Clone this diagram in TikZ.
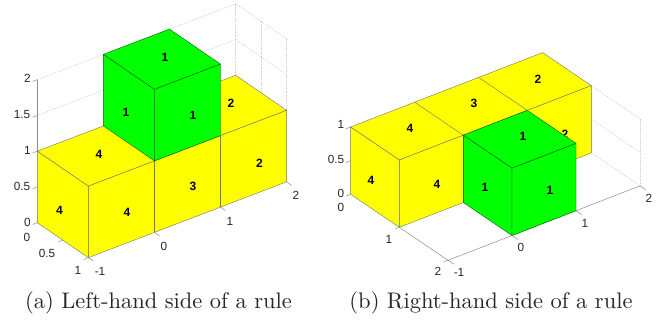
\documentclass[tikz,border=0pt]{standalone}
\usepackage{fontspec}
\setsansfont{Liberation Sans}
\definecolor{cubeyellow}{RGB}{255,255,0}
\definecolor{cubegreen}{RGB}{0,255,0}
\tikzset{
  leftaxes/.style={shift={(103.4pt,122.6pt)},x={(66.1pt,25.3pt)},y={(51pt,-35pt)},z={(0pt,71.5pt)}},
  rightaxes/.style={shift={(414.6pt,150.5pt)},x={(64pt,24.8pt)},y={(48.7pt,-33pt)},z={(0pt,67.3pt)}},
  yface/.style={fill=cubeyellow,draw=black!55,line width=0.4pt,line join=round},
  gface/.style={fill=cubegreen,draw=green!40!black,line width=0.4pt,line join=round},
  gridline/.style={draw=black!22,line width=0.55pt,dash pattern=on 1pt off 1.1pt},
  axisline/.style={draw=black!45,line width=0.5pt},
  ticklabel/.style={font=\sffamily\fontsize{11.8}{12}\selectfont,text=black!85,inner sep=0pt},
  celllabel/.style={font=\sffamily\bfseries\fontsize{12}{12}\selectfont,inner sep=0pt},
  captionlabel/.style={font=\rmfamily\fontsize{10}{12}\selectfont,scale=2.25,text=black!85,inner sep=0pt}
}
\newcommand{\pxnode}[4]{\node[#1] (#2) at (#3) {#4};}
\begin{document}
\begin{tikzpicture}[x=1pt,y=1pt]
\useasboundingbox (0,0) rectangle (670,320);
% ---------- left plot
\begin{scope}[leftaxes]
  \foreach \zz in {1.5,2}{
    \draw[gridline] (-1,0,\zz) -- (2,0,\zz) -- (2,1,\zz);
  }
  \draw[gridline] (2,0,1) -- (2,0,2);
  \draw[gridline] (2,.5,1) -- (2,.5,2);
  \draw[gridline] (2,1,1) -- (2,1,2);
  \draw[axisline] (-1,0,1) -- (-1,0,2);
  \draw[axisline] (-1,0,2) -- ++(-.07,0,0);
  \draw[axisline] (-1,0,1.5) -- ++(-.07,0,0);
  \draw[axisline] (-1,0,1) -- ++(-.07,0,0);
  \draw[axisline] (-1,0,.5) -- ++(-.07,0,0);
  \draw[axisline] (-1,0,0) -- ++(-.07,0,0);
  \draw[axisline] (-1,.5,0) -- ++(-.07,0,0);
  \draw[axisline] (-1,1,0) -- ++(-.07,0,0);
  \foreach \xx in {-1,0,1,2}{\draw[axisline] (\xx,1,0) -- ++(0,.1,0);}
  % yellow block
  \draw[yface] (-1,0,1) -- (2,0,1) -- (2,1,1) -- (-1,1,1) -- cycle;
  \draw[yface] (-1,0,0) -- (-1,1,0) -- (-1,1,1) -- (-1,0,1) -- cycle;
  \draw[yface] (-1,1,0) -- (2,1,0) -- (2,1,1) -- (-1,1,1) -- cycle;
  \draw[yface] (0,1,0) -- (0,1,1);
  \draw[yface] (1,1,0) -- (1,1,1);
  % green cube
  \draw[gface] (0,0,2) -- (1,0,2) -- (1,1,2) -- (0,1,2) -- cycle;
  \draw[gface] (0,0,1) -- (0,1,1) -- (0,1,2) -- (0,0,2) -- cycle;
  \draw[gface] (0,1,1) -- (1,1,1) -- (1,1,2) -- (0,1,2) -- cycle;
\end{scope}
\pxnode{celllabel}{la}{165,263}{1}
\pxnode{celllabel}{lb}{126,208}{1}
\pxnode{celllabel}{lc}{193,205}{1}
\pxnode{celllabel}{ld}{231,217}{2}
\pxnode{celllabel}{le}{99,166}{4}
\pxnode{celllabel}{lf}{59.5,110}{4}
\pxnode{celllabel}{lg}{127,108}{4}
\pxnode{celllabel}{lh}{193,134}{3}
\pxnode{celllabel}{li}{259.5,157}{2}
\pxnode{ticklabel}{lz2}{27.5,242}{2}
\pxnode{ticklabel}{lz15}{22,205}{1.5}
\pxnode{ticklabel}{lz1}{27.5,170}{1}
\pxnode{ticklabel}{lz05}{22,134}{0.5}
\pxnode{ticklabel}{lz0}{27.5,98}{0}
\pxnode{ticklabel}{ly0}{27,83}{0}
\pxnode{ticklabel}{ly05}{47,66.5}{0.5}
\pxnode{ticklabel}{ly1}{78,50}{1}
\pxnode{ticklabel}{lxm}{100,49}{-1}
\pxnode{ticklabel}{lx0}{164,73.5}{0}
\pxnode{ticklabel}{lx1}{230,98.5}{1}
\pxnode{ticklabel}{lx2}{296,125}{2}
\pxnode{captionlabel}{lcap}{158.5,17.5}{(a) Left-hand side of a rule}
% ---------- right plot
\begin{scope}[rightaxes]
  \foreach \zz in {0,0.5,1}{
    \draw[gridline] (2,1,\zz) -- (2,2,\zz);
  }
  \draw[gridline] (2,2,0) -- (2,2,1);
  \draw[axisline] (-1,1,0) -- (-1,2,0) -- (2,2,0);
  \draw[axisline] (-1,0,1) -- ++(-.07,0,0);
  \draw[axisline] (-1,0,.5) -- ++(-.07,0,0);
  \draw[axisline] (-1,0,0) -- ++(-.07,0,0);
  \draw[axisline] (-1,1,0) -- ++(-.07,0,0);
  \draw[axisline] (-1,2,0) -- ++(-.07,0,0);
  \foreach \xx in {-1,0,1,2}{\draw[axisline] (\xx,2,0) -- ++(0,.12,0);}
  % yellow block
  \draw[yface] (-1,0,1) -- (2,0,1) -- (2,1,1) -- (-1,1,1) -- cycle;
  \draw[yface] (-1,0,0) -- (-1,1,0) -- (-1,1,1) -- (-1,0,1) -- cycle;
  \draw[yface] (-1,1,0) -- (2,1,0) -- (2,1,1) -- (-1,1,1) -- cycle;
  \draw[yface] (0,0,1) -- (0,1,1);
  \draw[yface] (1,0,1) -- (1,1,1);
  \draw[yface] (0,1,0) -- (0,1,1);
\end{scope}
\pxnode{celllabel}{ra}{410,192}{4}
\pxnode{celllabel}{rb}{474,217}{3}
\pxnode{celllabel}{rc}{538,241}{2}
\pxnode{celllabel}{rd}{565,186}{2}
\pxnode{celllabel}{re}{371,140}{4}
\pxnode{celllabel}{rf}{437,136}{4}
\begin{scope}[rightaxes]
  \draw[gface] (0,1,1) -- (1,1,1) -- (1,2,1) -- (0,2,1) -- cycle;
  \draw[gface] (0,1,0) -- (0,2,0) -- (0,2,1) -- (0,1,1) -- cycle;
  \draw[gface] (0,2,0) -- (1,2,0) -- (1,2,1) -- (0,2,1) -- cycle;
\end{scope}
\pxnode{celllabel}{rg}{523,184}{1}
\pxnode{celllabel}{rh}{485,133}{1}
\pxnode{celllabel}{ri}{550,130}{1}
\pxnode{ticklabel}{rz1}{341,196}{1}
\pxnode{ticklabel}{rz05}{336,161}{0.5}
\pxnode{ticklabel}{rz0}{341,127}{0}
\pxnode{ticklabel}{ry0}{341,113}{0}
\pxnode{ticklabel}{ry1}{389,81}{1}
\pxnode{ticklabel}{ry2}{438,49}{2}
\pxnode{ticklabel}{rxm}{459,48}{-1}
\pxnode{ticklabel}{rx0}{521,73}{0}
\pxnode{ticklabel}{rx1}{585,97}{1}
\pxnode{ticklabel}{rx2}{649,122}{2}
\pxnode{captionlabel}{rcap}{491,17.5}{(b) Right-hand side of a rule}
\end{tikzpicture}
\end{document}
